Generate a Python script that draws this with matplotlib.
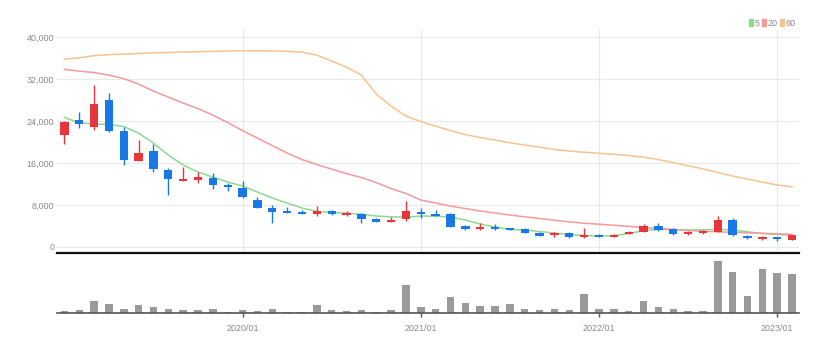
import matplotlib
matplotlib.use('Agg')
import matplotlib.pyplot as plt
from matplotlib.patches import Patch
import pandas as pd

# monthly candles, 2019/01 .. 2023/02
start_month = '2019-01'
opens  = [21300, 24200, 22800, 28100, 22100, 16400, 18300, 14600, 12600, 12700,
          13200, 11700, 11300, 8900, 7300, 6800, 6700, 6300, 6900, 6000,
          6300, 5300, 4700, 5300, 6700, 6200, 6200, 4000, 3300, 3800,
          3500, 3300, 2700, 2200, 2700, 1800, 2300, 1900, 2400, 2900,
          3950, 3300, 2350, 2600, 2850, 5100, 2100, 1450, 1800, 1350]
highs  = [24100, 25700, 30900, 29300, 22900, 20400, 19600, 15000, 15200, 14300,
          14000, 12100, 12600, 9500, 8000, 7600, 7100, 7800, 7100, 6800,
          6400, 5400, 5600, 8800, 7300, 7000, 6500, 4200, 4500, 4300,
          3600, 3500, 2800, 2900, 2900, 3500, 2400, 2400, 3000, 4300,
          4450, 3500, 2950, 3100, 5850, 5400, 2200, 2050, 1850, 2250]
lows   = [19700, 22700, 22300, 22000, 15700, 16300, 14300, 9900, 12500, 12100,
          11100, 10600, 9300, 7300, 4500, 6400, 6200, 5900, 6100, 5900,
          4600, 4800, 4650, 5000, 5500, 5900, 3800, 3100, 3250, 3100,
          3100, 2600, 1950, 1900, 1700, 1700, 1800, 1800, 2350, 2800,
          3050, 2300, 2300, 2500, 2800, 2050, 1500, 1300, 1150, 1300]
closes = [23900, 23400, 27200, 22100, 16600, 17900, 14800, 12900, 13000, 13400,
          11800, 11500, 9400, 7300, 6700, 6500, 6300, 6900, 6200, 6400,
          5300, 4800, 5100, 6800, 6200, 5900, 3800, 3300, 3800, 3400,
          3200, 2700, 2000, 2600, 1800, 2200, 1900, 2300, 2900, 3950,
          3200, 2350, 2850, 3000, 5100, 2250, 1650, 1800, 1400, 2200]

ma5  = [24700, 23670, 23420, 23370, 22950, 21700, 19800, 17500, 15600, 14260,
        13300, 12350, 11590, 10440, 9300, 8340, 7390, 6720, 6530, 6400,
        6200, 5860, 5710, 5630, 5860, 5820, 5670, 5100, 4330, 3760,
        3280, 3190, 2900, 2620, 2330, 2140, 2040, 2120, 2520, 3050,
        3280, 3280, 3190, 3230, 3320, 3190, 2840, 2520, 2330, 2230]
ma20 = [33870, 33540, 33260, 32780, 32110, 31060, 29720, 28580, 27430, 26380,
        25140, 23710, 22180, 20750, 19320, 17890, 16650, 15690, 14830, 13970,
        13210, 12260, 11110, 10160, 8920, 8340, 7770, 7290, 6820, 6430,
        6050, 5710, 5380, 5060, 4750, 4470, 4300, 4100, 3890, 3670,
        3470, 3280, 3090, 2960, 2840, 2750, 2650, 2560, 2460, 2370]
ma60 = [35830, 36080, 36500, 36690, 36790, 36920, 37020, 37110, 37190, 37260,
        37320, 37380, 37420, 37420, 37400, 37320, 37170, 36600, 35450, 34300,
        32780, 29150, 26860, 24950, 23900, 23040, 22180, 21420, 20850, 20370,
        19850, 19420, 19030, 18560, 18270, 18040, 17850, 17640, 17410, 17120,
        16650, 16070, 15460, 14870, 14170, 13500, 12920, 12350, 11780, 11450]

volume = [20, 23, 117, 90, 40, 73, 53, 40, 23, 23,
          40, 7, 23, 17, 33, 7, 7, 73, 23, 17,
          23, 7, 23, 277, 53, 40, 160, 100, 67, 67,
          83, 33, 23, 33, 23, 183, 40, 33, 17, 117,
          57, 40, 20, 17, 520, 403, 170, 440, 393, 387]

ma_labels = ['5', '20', '60']

UP = '#e8343b'
DOWN = '#1778e6'
MA_COLORS = ['#8ed98e', '#f39a9a', '#f7c390']
GRID = '#e9e9e9'
TXT = '#8a8a8a'

plt.rcParams['font.family'] = ['Liberation Sans', 'DejaVu Sans']

months = pd.date_range(start_month, periods=len(opens), freq='MS')
x = list(range(len(opens)))
jan_pos = [i for i, m in enumerate(months) if m.month == 1 and i > 0]
jan_lab = [months[i].strftime('%Y/%m') for i in jan_pos]

fig = plt.figure(figsize=(8.34, 3.52), dpi=100)
ax = fig.add_axes([0.0683, 0.2813, 0.8903, 0.6335])
axv = fig.add_axes([0.0683, 0.1116, 0.8903, 0.156], sharex=ax)

# candles
for i in x:
    c = UP if closes[i] >= opens[i] else DOWN
    ax.vlines(i, lows[i], highs[i], color=c, linewidth=1, zorder=3)
    lo = min(opens[i], closes[i])
    h = max(abs(closes[i] - opens[i]), 250)
    ax.bar(i, h, bottom=lo, width=0.56, color=c, linewidth=0, zorder=4)

for vals, col, lab in zip([ma5, ma20, ma60], MA_COLORS, ma_labels):
    ax.plot(x, vals, color=col, linewidth=1.1, zorder=2, label=lab)

ax.set_xlim(-0.5, len(x) - 0.5)
ax.set_ylim(-1200, 41400)
ax.set_yticks([0, 8000, 16000, 24000, 32000, 40000])
ax.set_yticklabels(['0', '8,000', '16,000', '24,000', '32,000', '40,000'])
ax.yaxis.grid(True, color=GRID, linewidth=0.8)
for p in jan_pos:
    ax.axvline(p, color=GRID, linewidth=0.8, zorder=0)
ax.set_axisbelow(True)
ax.tick_params(axis='y', length=0, pad=2, labelsize=6.5, labelcolor=TXT)
ax.tick_params(axis='x', length=0, labelbottom=False)
for s in ['top', 'right', 'left']:
    ax.spines[s].set_visible(False)
ax.spines['bottom'].set_color('#111111')
ax.spines['bottom'].set_linewidth(1.6)

handles = [Patch(color=c, label=l) for c, l in zip(MA_COLORS, ma_labels)]
fig.legend(handles=handles, loc='upper right', bbox_to_anchor=(0.962, 0.965),
           ncol=3, frameon=False, fontsize=6.5, labelcolor=TXT,
           handlelength=0.4, handleheight=0.9, handletextpad=0.2,
           columnspacing=0.3, borderpad=0.2)

# volume
axv.bar(x, volume, width=0.5, color='#9a9a9a', linewidth=0)
axv.set_ylim(0, 547)
axv.set_yticks([])
for s in ['top', 'right', 'left']:
    axv.spines[s].set_visible(False)
axv.spines['bottom'].set_color('#555555')
axv.spines['bottom'].set_linewidth(1.2)
axv.set_xticks(jan_pos)
axv.set_xticklabels(jan_lab)
axv.tick_params(axis='x', length=3, width=1, color='#555555', pad=5,
                labelsize=6.5, labelcolor=TXT)

fig.savefig('out.png', dpi=100)
